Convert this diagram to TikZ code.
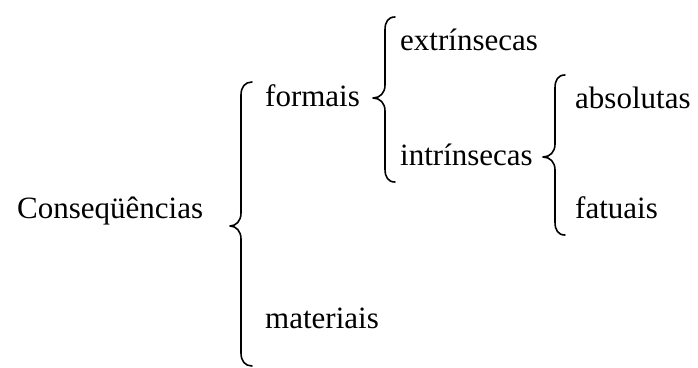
\documentclass[tikz,border=0pt]{standalone}
\usepackage{fontspec}
\setmainfont{Liberation Serif}
\begin{document}
\begin{tikzpicture}[x=1pt,y=-1pt,
  lbl/.style={anchor=base west,inner sep=0pt,font=\fontsize{31}{37}\selectfont},
  brc/.style={line width=1.6pt,line cap=round,line join=round}]
\useasboundingbox (0,0) rectangle (698,367);
\node[lbl] (cons) at (17,218) {Conseqüências};
\node[lbl] (form) at (265,106) {formais};
\node[lbl] (mat) at (265,328) {materiais};
\node[lbl] (extr) at (400,50) {extrínsecas};
\node[lbl] (intr) at (400,165) {intrínsecas};
\node[lbl] (abs) at (575,108) {absolutas};
\node[lbl] (fat) at (575,218) {fatuais};
% brace 1
\coordinate (b1t) at (252,82);
\coordinate (b1m) at (230,226);
\coordinate (b1b) at (252,366);
\draw[brc] (b1t) .. controls (245,82) and (241,87) .. (241,95) -- (241,213)
  .. controls (241,221) and (236,226) .. (b1m)
  .. controls (236,226) and (241,231) .. (241,239) -- (241,353)
  .. controls (241,361) and (245,366) .. (b1b);
% brace 2
\coordinate (b2t) at (395,17);
\coordinate (b2m) at (373,98);
\coordinate (b2b) at (395,182);
\draw[brc] (b2t) .. controls (388,17) and (385,22) .. (385,30) -- (385,85)
  .. controls (385,93) and (380,98) .. (b2m)
  .. controls (380,98) and (385,103) .. (385,111) -- (385,169)
  .. controls (385,177) and (388,182) .. (b2b);
% brace 3
\coordinate (b3t) at (565,75);
\coordinate (b3m) at (543,157);
\coordinate (b3b) at (565,235);
\draw[brc] (b3t) .. controls (558,75) and (555,80) .. (555,88) -- (555,144)
  .. controls (555,152) and (550,157) .. (b3m)
  .. controls (550,157) and (555,162) .. (555,170) -- (555,222)
  .. controls (555,230) and (558,235) .. (b3b);
\end{tikzpicture}
\end{document}
